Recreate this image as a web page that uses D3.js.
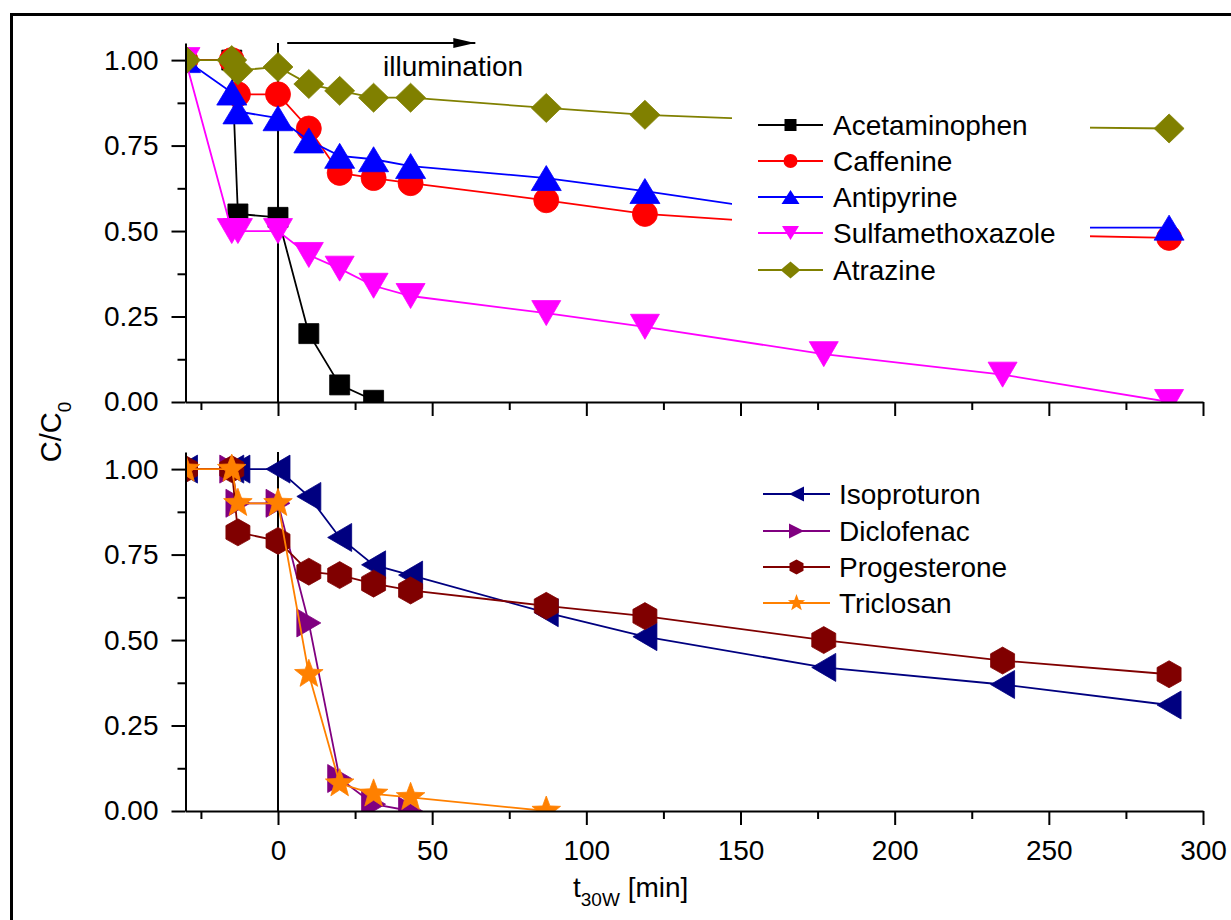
<!DOCTYPE html>
<html>
<head>
<meta charset="utf-8">
<script src="https://cdn.jsdelivr.net/npm/d3@7"></script>
<style>
  html, body { margin: 0; padding: 0; background: #fff; }
  svg { display: block; font-family: "Liberation Sans", Arial, sans-serif; }
</style>
</head>
<body>
<svg id="chart" width="1231" height="920"></svg>
<script>
// ---------- data ----------
const times = [-30, -15, -13, 0, 10, 20, 31, 43, 87, 119, 177, 235, 289];

const acetaminophen    = [1.00, 1.00, 0.55, 0.54, 0.20, 0.05, 0.005];
const caffeine         = [1.00, 1.00, 0.90, 0.90, 0.80, 0.67, 0.655, 0.64, 0.59, 0.55, 0.515, 0.49, 0.48];
const antipyrine       = [1.00, 0.905, 0.85, 0.83, 0.765, 0.72, 0.71, 0.69, 0.655, 0.617, 0.54, 0.51, 0.51];
const sulfamethoxazole = [1.00, 0.50, 0.50, 0.50, 0.43, 0.39, 0.34, 0.31, 0.26, 0.22, 0.14, 0.08, 0.00];
const atrazine         = [1.00, 1.00, 0.97, 0.98, 0.93, 0.91, 0.89, 0.89, 0.86, 0.84, 0.82, 0.805, 0.80];

const isoproturon  = [1.00, 1.00, 1.00, 1.00, 0.92, 0.80, 0.72, 0.69, 0.58, 0.51, 0.42, 0.37, 0.31];
const diclofenac   = [1.00, 1.00, 0.90, 0.90, 0.55, 0.095, 0.02, 0.00];
const progesterone = [1.00, 1.00, 0.815, 0.79, 0.70, 0.69, 0.665, 0.645, 0.60, 0.57, 0.50, 0.44, 0.40];
const triclosan    = [1.00, 1.00, 0.90, 0.90, 0.40, 0.08, 0.05, 0.04, 0.00];

const topNames    = ["Acetaminophen", "Caffenine", "Antipyrine", "Sulfamethoxazole", "Atrazine"];
const bottomNames = ["Isoproturon", "Diclofenac", "Progesterone", "Triclosan"];

const xTickValues = [0, 50, 100, 150, 200, 250, 300];
const xMinorTicks = [-25, 25, 75, 125, 175, 225, 275];
const yTickValues = [0, 0.25, 0.5, 0.75, 1.0];
const yMinorTicks = [0.125, 0.375, 0.625, 0.875];

// ---------- styling ----------
const FONT = 28;
const svg = d3.select("#chart");

// outer frame (cut by the picture edge)
svg.append("rect").attr("x", 11.5).attr("y", 14.5).attr("width", 1400).attr("height", 1100)
  .attr("fill", "none").attr("stroke", "#000").attr("stroke-width", 3);

const x = d3.scaleLinear().domain([-30, 300]).range([185.5, 1203]);
const yTop = d3.scaleLinear().domain([0, 1.05]).range([402, 43]);
const yBot = d3.scaleLinear().domain([0, 1.05]).range([811, 452]);

// symbol path generators (w/h in px)
function symPath(type, s) {
  const p = d3.path();
  if (type === "square") {
    p.rect(-s.w / 2, -s.w / 2, s.w, s.w);
  } else if (type === "circle") {
    p.arc(0, 0, s.r, 0, 2 * Math.PI);
  } else if (type === "up") {
    p.moveTo(0, -s.h / 2); p.lineTo(s.w / 2, s.h / 2); p.lineTo(-s.w / 2, s.h / 2); p.closePath();
  } else if (type === "down") {
    p.moveTo(0, s.h / 2); p.lineTo(s.w / 2, -s.h / 2); p.lineTo(-s.w / 2, -s.h / 2); p.closePath();
  } else if (type === "left") {
    p.moveTo(-s.w / 2, 0); p.lineTo(s.w / 2, -s.h / 2); p.lineTo(s.w / 2, s.h / 2); p.closePath();
  } else if (type === "right") {
    p.moveTo(s.w / 2, 0); p.lineTo(-s.w / 2, -s.h / 2); p.lineTo(-s.w / 2, s.h / 2); p.closePath();
  } else if (type === "diamond") {
    p.moveTo(0, -s.h / 2); p.lineTo(s.w / 2, 0); p.lineTo(0, s.h / 2); p.lineTo(-s.w / 2, 0); p.closePath();
  } else if (type === "hexagon") {
    p.moveTo(0, -s.h / 2); p.lineTo(s.w / 2, -s.h / 4); p.lineTo(s.w / 2, s.h / 4);
    p.lineTo(0, s.h / 2); p.lineTo(-s.w / 2, s.h / 4); p.lineTo(-s.w / 2, -s.h / 4); p.closePath();
  } else if (type === "star") {
    const R = s.r, ri = s.r * 0.42;
    for (let i = 0; i < 10; i++) {
      const a = -Math.PI / 2 + i * Math.PI / 5;
      const rr = i % 2 === 0 ? R : ri;
      const px = rr * Math.cos(a), py = rr * Math.sin(a);
      if (i === 0) p.moveTo(px, py); else p.lineTo(px, py);
    }
    p.closePath();
  }
  return p.toString();
}

const topSeries = [
  { name: topNames[0], values: acetaminophen,    color: "#000000", sym: "square",  big: { w: 20 },          small: { w: 12 } },
  { name: topNames[1], values: caffeine,         color: "#FF0000", sym: "circle",  big: { r: 12.5 },        small: { r: 7 } },
  { name: topNames[2], values: antipyrine,       color: "#0000FF", sym: "up",      big: { w: 30, h: 25 },   small: { w: 18, h: 14 } },
  { name: topNames[3], values: sulfamethoxazole, color: "#FF00FF", sym: "down",    big: { w: 29, h: 25 },   small: { w: 17, h: 14 } },
  { name: topNames[4], values: atrazine,         color: "#808000", sym: "diamond", big: { w: 30, h: 29 },   small: { w: 20, h: 17 } }
];
const bottomSeries = [
  { name: bottomNames[0], values: isoproturon,  color: "#000080", sym: "left",    big: { w: 24, h: 28 }, small: { w: 15, h: 15 } },
  { name: bottomNames[1], values: diclofenac,   color: "#800080", sym: "right",   big: { w: 24, h: 28 }, small: { w: 15, h: 15 } },
  { name: bottomNames[2], values: progesterone, color: "#800000", sym: "hexagon", big: { w: 24, h: 27 }, small: { w: 14, h: 15 } },
  { name: bottomNames[3], values: triclosan,    color: "#FF8000", sym: "star",    big: { r: 15 },        small: { r: 9 } }
];

function drawPanel(y, series, id, showXLabels) {
  const g = svg.append("g");
  const [r0, r1] = y.range();
  // clip to plot area
  svg.append("clipPath").attr("id", id).append("rect")
    .attr("x", x.range()[0]).attr("y", r1).attr("width", x.range()[1] - x.range()[0]).attr("height", r0 - r1);

  // vertical line at t = 0
  g.append("line").attr("x1", x(0)).attr("x2", x(0)).attr("y1", r1).attr("y2", r0)
    .attr("stroke", "#000").attr("stroke-width", 2);

  const plot = g.append("g").attr("clip-path", `url(#${id})`);
  series.forEach(s => {
    const pts = s.values.map((v, i) => [times[i], v]);
    plot.append("path").datum(pts)
      .attr("d", d3.line().x(d => x(d[0])).y(d => y(d[1])))
      .attr("fill", "none").attr("stroke", s.color).attr("stroke-width", 1.8);
    plot.selectAll(null).data(pts).enter().append("path")
      .attr("d", symPath(s.sym, s.big))
      .attr("transform", d => `translate(${x(d[0])},${y(d[1])})`)
      .attr("fill", s.color).attr("stroke", s.color).attr("stroke-width", 0.8);
  });

  // y axis
  const yAx = g.append("g").attr("transform", `translate(${x.range()[0]},0)`)
    .call(d3.axisLeft(y).tickValues(yTickValues).tickFormat(d3.format(".2f"))
      .tickSize(14).tickSizeOuter(0).tickPadding(13));
  yAx.append("g").call(d3.axisLeft(y).tickValues(yMinorTicks).tickFormat("").tickSize(8).tickSizeOuter(0))
    .select(".domain").remove();
  // x axis
  const xAx = g.append("g").attr("transform", `translate(0,${r0})`)
    .call(d3.axisBottom(x).tickValues(xTickValues).tickFormat(showXLabels ? d3.format("d") : "")
      .tickSize(14).tickSizeOuter(0).tickPadding(15));
  xAx.append("g").call(d3.axisBottom(x).tickValues(xMinorTicks).tickFormat("").tickSize(8).tickSizeOuter(0))
    .select(".domain").remove();

  [yAx, xAx].forEach(a => {
    a.selectAll("path, line").attr("stroke", "#000").attr("stroke-width", 2);
    a.selectAll("text").attr("font-size", FONT).attr("fill", "#000")
      .attr("font-family", "'Liberation Sans', Arial, sans-serif");
  });
  return g;
}

drawPanel(yTop, topSeries, "clipTop", false);
drawPanel(yBot, bottomSeries, "clipBot", true);

// legends
function drawLegend(series, x0, x1, tx, rows, bg) {
  const g = svg.append("g");
  if (bg) g.append("rect").attr("x", bg[0]).attr("y", bg[1]).attr("width", bg[2]).attr("height", bg[3]).attr("fill", "#fff");
  series.forEach((s, i) => {
    const yy = rows[i];
    g.append("line").attr("x1", x0).attr("x2", x1).attr("y1", yy).attr("y2", yy)
      .attr("stroke", s.color).attr("stroke-width", 1.8);
    g.append("path").attr("d", symPath(s.sym, s.small))
      .attr("transform", `translate(${(x0 + x1) / 2},${yy})`).attr("fill", s.color);
    g.append("text").attr("x", tx).attr("y", yy + 10).attr("font-size", FONT).attr("fill", "#000").text(s.name);
  });
}
drawLegend(topSeries, 758, 823, 833, [125, 161, 197, 233, 270], [732, 100, 358, 190]);
drawLegend(bottomSeries, 763, 830, 839, [494, 531, 567, 603], null);

// illumination arrow
svg.append("defs").append("marker").attr("id", "arrow").attr("viewBox", "0 0 22 10")
  .attr("refX", 22).attr("refY", 5).attr("markerWidth", 22).attr("markerHeight", 10)
  .attr("markerUnits", "userSpaceOnUse").attr("orient", "auto")
  .append("path").attr("d", "M0,0 L22,5 L0,10 Z").attr("fill", "#000");
svg.append("line").attr("x1", x(3)).attr("x2", x(64)).attr("y1", 43).attr("y2", 43)
  .attr("stroke", "#000").attr("stroke-width", 2).attr("marker-end", "url(#arrow)");
svg.append("text").attr("x", 383).attr("y", 76).attr("font-size", FONT).attr("fill", "#000").text("illumination");

// axis titles
const yl = svg.append("text").attr("transform", "translate(61,432) rotate(-90)")
  .attr("text-anchor", "middle").attr("font-size", 29).attr("fill", "#000");
yl.append("tspan").text("C/C");
yl.append("tspan").attr("font-size", 19).attr("dy", 10).text("0");

const xl = svg.append("text").attr("x", 573).attr("y", 897).attr("font-size", FONT).attr("fill", "#000");
xl.append("tspan").text("t");
xl.append("tspan").attr("font-size", 19).attr("dy", 9).text("30W");
xl.append("tspan").attr("dy", -9).text(" [min]");
</script>
</body>
</html>
